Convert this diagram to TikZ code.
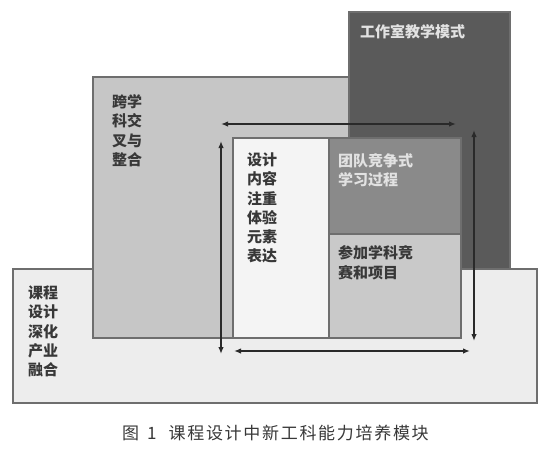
\documentclass[tikz,border=0pt]{standalone}
\usepackage{fontspec}
\usetikzlibrary{arrows.meta}
\newfontfamily\cjk{Noto Sans CJK SC}
\newfontfamily\cjkcap[LetterSpace=10]{Noto Sans CJK SC}
\definecolor{darkbox}{HTML}{5A5A5A}
\definecolor{midbox}{HTML}{C6C6C6}
\definecolor{basebox}{HTML}{EDEDED}
\definecolor{whitebox}{HTML}{F4F4F4}
\definecolor{teambox}{HTML}{8A8A8A}
\definecolor{compbox}{HTML}{C9C9C9}
\definecolor{edge}{HTML}{6E6E6E}
\definecolor{darktext}{HTML}{383838}
\definecolor{lighttext}{HTML}{E2E2E2}
\definecolor{arrowcol}{HTML}{2A2A2A}
\begin{document}
\begin{tikzpicture}[x=1pt,y=-1pt,
  panel/.style={draw=edge, line width=1.4pt, inner sep=0pt, outer sep=0pt, anchor=north west},
  label/.style={inner sep=0pt, anchor=north west, align=left, font=\cjk\bfseries\fontsize{15}{19.3}\selectfont, text=darktext},
  lightlabel/.style={label, text=lighttext},
  biarrow/.style={draw=arrowcol, line width=1.5pt, {Latex[length=7pt,width=5.5pt]}-{Latex[length=7pt,width=5.5pt]}}
]
\useasboundingbox (0,0) rectangle (551,450);
% base box
\node[panel, fill=basebox, minimum width=524pt, minimum height=134pt] (base) at (13,269) {};
% middle box
\node[panel, fill=midbox, minimum width=260pt, minimum height=261pt] (mid) at (93,77) {};
% dark box
\node[panel, fill=darkbox, minimum width=161pt, minimum height=257pt] (dark) at (349,12) {};
% inner boxes
\node[panel, fill=whitebox, minimum width=96pt, minimum height=200pt] (design) at (233,138) {};
\node[panel, fill=teambox, minimum width=132pt, minimum height=96pt] (team) at (329,138) {};
\node[panel, fill=compbox, minimum width=132pt, minimum height=104pt] (comp) at (329,234) {};
% labels
\node[lightlabel] (tdark) at (360,24.5) {工作室教学模式};
\node[label] (tmid) at (112,94.5) {跨学\\科交\\叉与\\整合};
\node[label] (tbase) at (28,285.5) {课程\\设计\\深化\\产业\\融合};
\node[label] (tdesign) at (247,152.5) {设计\\内容\\注重\\体验\\元素\\表达};
\node[lightlabel] (tteam) at (338,153.5) {团队竞争式\\学习过程};
\node[label] (tcomp) at (338,245.5) {参加学科竞\\赛和项目};
% arrows
\coordinate (a1) at (221,124); \coordinate (a2) at (456,124);
\coordinate (b1) at (221,141); \coordinate (b2) at (221,354);
\coordinate (c1) at (474,130); \coordinate (c2) at (474,341);
\coordinate (d1) at (234,351); \coordinate (d2) at (470,351);
\draw[biarrow] (a1) -- (a2);
\draw[biarrow] (b1) -- (b2);
\draw[biarrow] (c1) -- (c2);
\draw[biarrow] (d1) -- (d2);
% caption
\node[inner sep=0pt, anchor=west, text=darktext, font=\cjkcap\fontsize{17}{20}\selectfont] (cap) at (122,433) {图\hspace{8pt}1\hspace{12pt}课程设计中新工科能力培养模块};
\end{tikzpicture}
\end{document}
